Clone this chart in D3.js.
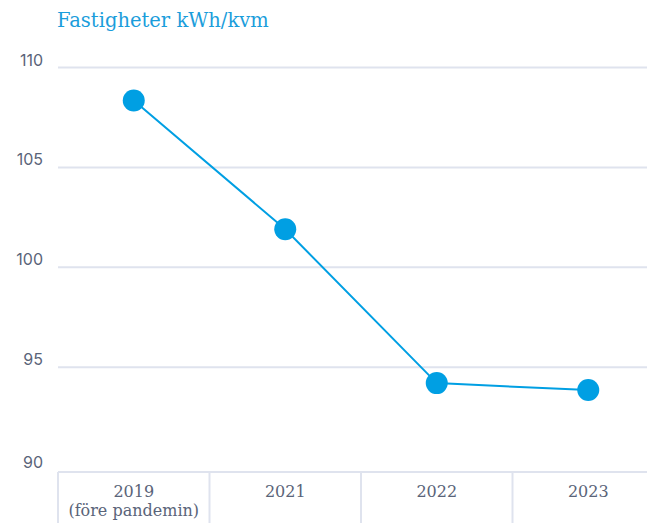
<!DOCTYPE html>
<html lang="sv">
<head>
<meta charset="utf-8">
<title>Fastigheter kWh/kvm</title>
<script src="https://d3js.org/d3.v7.min.js"></script>
<style>
  body { margin: 0; background: #fff; }
</style>
</head>
<body>
<script type="text/javascript">

  // data
  var years = ["2019", "2021", "2022", "2023"];
  var subLabels = ["(före pandemin)", "", "", ""];
  var values = [108.35, 101.9, 94.2, 93.85];
  var yTicks = [90, 95, 100, 105, 110];

  var w = 647, h = 523;
  var left = 58, right = 647;
  var blue = "#009fe3";
  var grid = "#dfe3ee";
  var textCol = "#5a6479";
  var slab = "'DejaVu Serif', 'Liberation Serif', serif";

  var svg = d3.select("body").append("svg")
      .attr("width", w)
      .attr("height", h);

  // columns are ~151px wide, the last one runs off the right edge
  var x = d3.scaleBand()
      .domain(years)
      .range([left, 664]);

  var y = d3.scaleLinear()
      .domain([90, 110])
      .range([467, 67.5]);

  // title
  svg.append("text")
      .attr("x", 57)
      .attr("y", 27)
      .attr("font-family", slab)
      .attr("font-size", "19.5px")
      .attr("fill", "#1a9ddb")
      .text("Fastigheter kWh/kvm");

  // horizontal grid lines (90 is covered by the category box)
  svg.selectAll("line.grid")
      .data(yTicks.filter(function(d) { return d > 90; }))
      .enter()
      .append("line")
      .attr("class", "grid")
      .attr("x1", left)
      .attr("x2", right)
      .attr("y1", function(d) { return y(d); })
      .attr("y2", function(d) { return y(d); })
      .attr("stroke", grid)
      .attr("stroke-width", 2);

  // y labels
  svg.selectAll("text.ylab")
      .data(yTicks)
      .enter()
      .append("text")
      .attr("class", "ylab")
      .attr("x", 43)
      .attr("y", function(d) { return y(d) - 2 + (d === 90 ? 3 : 0); })
      .attr("text-anchor", "end")
      .attr("font-family", "Inter, 'Noto Sans', sans-serif")
      .attr("font-size", "16px")
      .attr("fill", textCol)
      .text(function(d) { return d; });

  // category boxes along the bottom
  var boxTop = 472;
  svg.append("line")
      .attr("x1", left).attr("x2", right)
      .attr("y1", boxTop).attr("y2", boxTop)
      .attr("stroke", grid)
      .attr("stroke-width", 2);

  svg.selectAll("line.sep")
      .data(years)
      .enter()
      .append("line")
      .attr("class", "sep")
      .attr("x1", function(d) { return x(d); })
      .attr("x2", function(d) { return x(d); })
      .attr("y1", boxTop)
      .attr("y2", h)
      .attr("stroke", grid)
      .attr("stroke-width", 2);

  svg.selectAll("text.xlab")
      .data(years)
      .enter()
      .append("text")
      .attr("class", "xlab")
      .attr("x", function(d) { return x(d) + x.bandwidth() / 2; })
      .attr("y", 497)
      .attr("text-anchor", "middle")
      .attr("font-family", slab)
      .attr("font-size", "16px")
      .attr("fill", textCol)
      .text(function(d) { return d; });

  svg.selectAll("text.xsub")
      .data(years)
      .enter()
      .append("text")
      .attr("class", "xsub")
      .attr("x", function(d) { return x(d) + x.bandwidth() / 2; })
      .attr("y", 516)
      .attr("text-anchor", "middle")
      .attr("font-family", slab)
      .attr("font-size", "16px")
      .attr("fill", textCol)
      .text(function(d, i) { return subLabels[i]; });

  // line + points
  var line = d3.line()
      .x(function(d, i) { return x(years[i]) + x.bandwidth() / 2; })
      .y(function(d) { return y(d); });

  svg.append("path")
      .datum(values)
      .attr("d", line)
      .attr("fill", "none")
      .attr("stroke", blue)
      .attr("stroke-width", 2);

  svg.selectAll("circle")
      .data(values)
      .enter()
      .append("circle")
      .attr("cx", function(d, i) { return x(years[i]) + x.bandwidth() / 2; })
      .attr("cy", function(d) { return y(d); })
      .attr("r", 11)
      .attr("fill", blue);

</script>
</body>
</html>
